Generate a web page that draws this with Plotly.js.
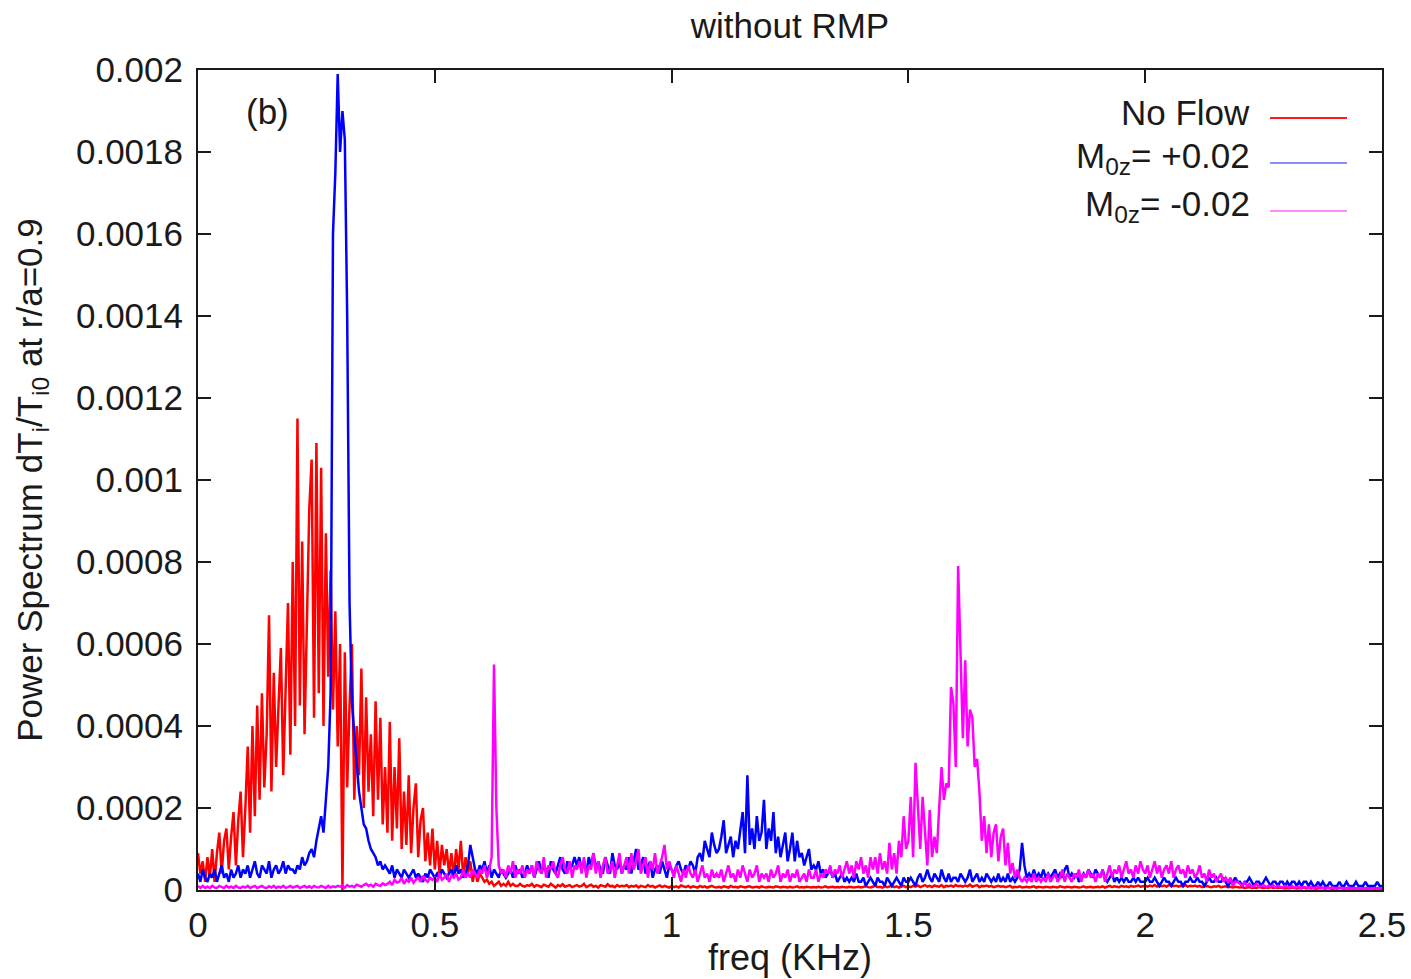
<!DOCTYPE html>
<html>
<head>
<meta charset="utf-8">
<script src="https://cdn.plot.ly/plotly-3.0.1.min.js"></script>
<style>
  html, body { margin: 0; padding: 0; background: #ffffff; }
  #chart { width: 1411px; height: 979px; }
</style>
</head>
<body>
<div id="chart"></div>
<script>
// Frequency sampling step (KHz); samples run from 0 to 2.5 KHz
const freqStep = 0.005;
// Values are in units of 1e-5 (power spectrum of dTi/Ti0 at r/a = 0.9)
const valueUnit = 1e-5;

// No Flow (red)
const noFlow = [
  9,4,7,2,8,3,10,2,9,14,4,12,15,5,13,19,6,17,24,8,
  20,35,14,40,18,45,22,48,25,38,67,24,53,30,45,59,28,50,70,33,
  80,40,115,45,85,38,62,93,105,42,109,48,103,40,87,52,78,44,68,35,
  60,0,58,25,45,60,22,40,28,54,20,47,24,38,18,46,22,42,16,30,
  14,41,12,30,15,37,10,24,11,28,9,20,26,8,17,20,7,14,6,15,
  5,12,4,11,6,10,4,9,3,10,5,12,3,8,4,7,2,5,2,4,
  3,2,2.5,1.5,2,1,1.5,2,1,1.5,1,2,1,1.5,1,1,1.5,1,0.8,1.2,
  1,1.5,0.8,1.2,1,0.7,1.3,1,0.8,1.5,1,0.6,1.2,0.9,1.4,0.8,1,1.2,0.7,1,
  1.2,0.8,1,1.5,0.7,1,1.3,0.8,1,0.6,1.2,1,0.8,1.4,0.9,1,0.7,1.2,0.8,1,
  0.9,1.2,0.7,1,0.8,1.1,0.6,1,0.9,0.7,1.2,0.8,1,0.6,0.9,1.1,0.7,1,0.8,0.6,
  1,0.7,0.9,0.6,1.1,0.8,0.7,1,0.6,0.9,0.8,0.6,1,0.7,0.9,0.6,0.8,1,0.7,0.6,
  0.8,0.6,0.9,0.7,0.6,1,0.7,0.8,0.6,0.9,0.7,0.6,0.8,0.9,0.6,0.7,0.8,0.6,0.9,0.7,
  0.6,0.8,0.7,0.6,0.9,0.7,0.6,0.8,0.7,0.6,0.8,0.6,0.7,0.9,0.6,0.7,0.6,0.8,0.7,0.6,
  0.7,0.6,0.8,0.6,0.7,0.9,0.6,0.7,0.8,0.6,0.7,0.6,0.8,0.7,0.6,0.8,0.7,0.6,0.7,0.8,
  0.6,0.7,0.9,0.7,0.6,0.8,1,0.7,0.8,0.6,0.9,0.7,0.8,1,0.7,0.9,0.6,0.8,1,0.7,
  0.9,0.7,1,0.8,1.1,0.7,0.9,1.2,0.8,1,0.7,1.1,0.9,0.8,1.2,0.7,1,0.9,1.1,0.8,
  1.2,0.9,1,0.8,1.1,0.9,1.3,0.8,1,1.2,0.7,1,0.9,1.1,0.8,1,0.7,0.9,1,0.8,
  0.9,0.7,0.8,1,0.6,0.8,0.7,0.9,0.6,0.7,0.8,0.6,0.7,0.9,0.6,0.8,0.7,0.6,0.8,0.7,
  0.6,0.8,0.7,0.6,0.9,0.7,0.6,0.8,0.7,0.6,0.8,0.7,0.6,0.7,0.9,0.6,0.7,0.8,0.6,0.7,
  0.8,0.7,0.9,0.6,0.8,1,0.7,0.9,0.8,0.7,1,0.8,0.9,0.7,1,0.8,0.9,1.1,0.8,0.9,
  1,0.8,1.1,0.9,1.2,0.8,1,0.9,1.1,0.8,1.2,1,0.9,1.1,0.8,1,0.9,1.2,0.8,1,
  0.9,1.1,0.8,1,0.7,0.9,1,0.8,0.7,0.9,0.8,1,0.7,0.8,0.9,0.7,0.8,0.6,0.8,0.7,
  0.6,0.7,0.5,0.6,0.7,0.5,0.6,0.5,0.7,0.6,0.5,0.6,0.5,0.7,0.5,0.6,0.5,0.6,0.5,0.4,
  0.5,0.4,0.6,0.5,0.4,0.5,0.4,0.6,0.4,0.5,0.4,0.5,0.3,0.4,0.5,0.4,0.3,0.5,0.4,0.3,
  0.4,0.3,0.5,0.4,0.3,0.4,0.3,0.4,0.3,0.4,0.3,0.3,0.4,0.3,0.3,0.4,0.3,0.3,0.4,0.3,0.3
];

// M0z = +0.02 (blue)
const flowPlus = [
  4,2,5,3,2,4,3,5,2,4,6,3,4,2,5,3,4,6,3,5,
  4,6,3,5,7,4,3,6,5,4,7,3,5,6,4,5,7,4,6,5,
  5,4,6,5,8,6,7,9,10,8,12,15,18,14,22,30,48,160,175,199,
  180,190,183,140,70,46,38,30,24,20,16,15,12,10,9,8,6,7,5,6,
  5,4,6,3,5,4,3,5,4,3,4,5,3,4,3,2,4,3,5,4,
  3,4,3,5,4,3,4,5,3,6,4,5,3,4,6,11,8,5,4,6,
  5,7,4,6,3,5,4,3,5,4,3,4,5,3,6,4,5,3,4,6,
  4,6,3,5,7,4,6,5,3,7,5,4,6,8,5,4,7,5,6,8,
  6,8,5,7,4,8,6,9,5,7,5,4,8,6,4,9,6,5,7,4,
  6,5,8,4,7,10,5,6,8,4,6,7,3,5,6,4,7,5,3,6,
  5,4,6,7,5,4,6,5,7,6,4,8,9,7,12,10,8,14,11,9,
  10,13,17,9,11,13,8,12,10,14,19,9,28,11,15,10,18,12,14,22,
  10,15,12,19,9,13,8,11,14,7,10,14,7,12,8,9,6,8,10,5,
  6,5,7,4,5,3,4,5,3,4,2,3,4,2,3,2,3,2,4,2,
  2,3,1,2,3,2,1,3,2,2,1,3,2,1,2,3,2,1,3,2,
  2,3,2,1,3,4,2,3,5,3,2,4,3,2,5,3,2,4,2,3,
  3,2,4,3,2,3,5,2,3,4,2,3,2,4,3,2,3,2,4,2,
  3,2,4,2,3,2,3,5,11.5,6,3,4,3,5,3,4,3,5,3,4,
  3,4,5,3,4,3,5,6,3,4,3,4,2,3,4,3,5,4,3,5,
  4,3,5,3,2,3,4,2,3,2,3,2,3,2,2,3,2,3,2,2,
  2,3,2,2,3,2,1,2,3,2,2,1,2,3,2,2,1,2,2,3,
  2,2,3,2,2,1,2,3,2,2,3,2,2,3,2,1,2,2,3,2,
  2,1,2,2,3,2,1,2,2,1,2,3,2,1,2,2,1,2,2,1,
  2,1,2,2,1,2,1,2,2,1,2,1,1,2,1,2,1,1,2,1,
  1,1,2,1,1,2,1,1,1,2,1,1,1,2,1,1,1,1,2,1,1
];

// M0z = -0.02 (magenta)
const flowMinus = [
  1,0.5,1,0.5,0.8,0.5,1,0.6,0.5,1,0.7,0.5,1,0.6,0.8,0.5,1,0.6,0.5,0.8,
  0.6,1,0.5,0.8,1,0.5,0.7,1,0.6,0.5,0.9,0.6,1,0.5,0.8,0.6,1,0.5,0.7,1,
  0.6,0.9,1,0.5,0.8,1,0.6,0.9,0.5,1,0.7,0.6,1,0.8,0.5,1,0.6,0.9,0.7,1,
  0.8,1,0.6,1.2,0.8,1,0.7,1.3,1,0.8,1.2,1.5,1,1.3,0.8,1.5,1.2,1,1.6,1.2,
  1.5,2,1.2,2.5,1.8,2,3,1.5,2.5,2,3,1.8,2.5,3,2,3.5,2.5,2,3,2.5,
  3,2,4,2.5,3,4,2,3.5,3,4,2.5,3,5,3,4,3,5,4,3,5,
  4,6,3,5,8,55,20,6,4,5,3,6,4,7,3,5,4,6,3,5,
  4,6,3,7,5,4,8,3,6,5,7,4,3,6,8,5,4,7,3,6,
  5,7,4,8,3,6,5,9,4,7,3,6,8,4,5,7,3,6,9,4,
  6,8,4,9,5,7,10,4,6,8,3,7,5,9,4,6,8,11,5,7,
  5,3,6,4,2,5,3,6,4,3,5,2,4,6,3,4,2,5,3,4,
  3,5,2,4,6,3,4,2,5,3,6,4,2,5,3,4,6,2,4,3,
  4,2,5,3,4,6,2,4,3,5,2,4,3,5,2,3,4,2,5,3,
  3,5,2,4,3,5,4,6,3,5,4,6,3,5,7,4,6,3,7,5,
  8,4,6,3,8,5,8,4,9,5,7,4,11.5,5,9,4,12,8,18,10,
  12,22.7,8,31,19.5,10,22.7,14,6,19.5,8,13,9,20,30,22,26,25,49.5,45.6,
  30,79,59,37,56,35,44,42,30,32,24,12,18,9,16,8,14,16,7,13,
  15,6,11.5,4,6.6,3,5,3,2,3,2,3,2,4,2,3,2,3,2,4,
  2,3,4,2,3,5,2,4,3,2,4,3,5,2,4,3,5,3,4,2,
  4,3,5,2,4,6,3,5,4,6,3,5,7,4,5,3,6,4,7,5,
  4,6,3,5,7,4,6,3,5,6,4,7,3,5,6,4,5,3,6,4,
  5,3,4,6,3,4,2,5,3,4,2,3,4,2,3,2,3,1,2,2,
  1.5,1,2,1,1.5,0.8,1,1.5,0.8,1,1.2,0.7,1,0.8,1.2,0.6,1,0.8,0.6,1,
  0.8,0.6,1,0.5,0.8,0.6,0.5,0.8,0.6,0.5,0.7,0.5,0.6,0.8,0.5,0.6,0.4,0.6,0.5,0.6,
  0.5,0.4,0.6,0.5,0.4,0.5,0.6,0.4,0.5,0.4,0.5,0.4,0.3,0.5,0.4,0.3,0.4,0.5,0.3,0.4,0.3
];

const seriesNames = ['No Flow', 'M<sub>0z</sub>= +0.02', 'M<sub>0z</sub>= -0.02'];
const seriesColors = ['#ff0000', '#0000ff', '#ff00ff'];
const legendColors = ['#ff1a1a', '#8c8cff', '#ff8cff'];
const xTicks = [0, 0.5, 1, 1.5, 2, 2.5];
const xTickText = ['0', '0.5', '1', '1.5', '2', '2.5'];
const yTicks = [0, 0.0002, 0.0004, 0.0006, 0.0008, 0.001, 0.0012, 0.0014, 0.0016, 0.0018, 0.002];
const yTickText = ['0', '0.0002', '0.0004', '0.0006', '0.0008', '0.001', '0.0012', '0.0014', '0.0016', '0.0018', '0.002'];

function makeTrace(vals, name, color) {
  const x = vals.map((_, i) => +(i * freqStep).toFixed(3));
  const y = vals.map(v => v * valueUnit);
  return { x, y, name, type: 'scatter', mode: 'lines',
           line: { color, width: 2.5 }, showlegend: false, hoverinfo: 'x+y' };
}

const traces = [
  makeTrace(noFlow, seriesNames[0], seriesColors[0]),
  makeTrace(flowPlus, seriesNames[1], seriesColors[1]),
  makeTrace(flowMinus, seriesNames[2], seriesColors[2])
];

const FONT = 'Liberation Sans, Arial, sans-serif';
const txt = '#1a1a1a';

// legend drawn gnuplot-style: text right-aligned, line sample to its right
const legendRowsY = [0.9476, 0.8927, 0.834];
const annotations = seriesNames.map((n, i) => ({
  xref: 'paper', yref: 'paper', x: 0.890, y: legendRowsY[i],
  xanchor: 'right', yanchor: 'middle', text: n, showarrow: false,
  font: { family: FONT, size: 35, color: txt }
}));
annotations.push({
  xref: 'x', yref: 'y', x: 0.146, y: 0.0019, xanchor: 'center', yanchor: 'middle',
  text: '(b)', showarrow: false, font: { family: FONT, size: 35, color: txt }
});
const shapes = legendColors.map((c, i) => ({
  type: 'line', xref: 'paper', yref: 'paper',
  x0: 0.9054, x1: 0.9704, y0: legendRowsY[i] - 0.006, y1: legendRowsY[i] - 0.006,
  line: { color: c, width: 2 }
}));

const axisCommon = {
  showline: true, mirror: 'ticks', linecolor: '#1a1a1a', linewidth: 2,
  ticks: 'inside', ticklen: 13, tickwidth: 2, tickcolor: '#1a1a1a',
  showgrid: false, zeroline: false,
  tickfont: { family: FONT, size: 35, color: txt }
};

const layout = {
  width: 1411, height: 979,
  margin: { l: 198, r: 29, t: 70, b: 89 },
  paper_bgcolor: '#ffffff', plot_bgcolor: '#ffffff',
  title: { text: 'without RMP', x: 0.5, xref: 'paper', xanchor: 'center',
           y: 0.974, yref: 'container', yanchor: 'middle',
           font: { family: FONT, size: 35, color: txt } },
  xaxis: Object.assign({}, axisCommon, {
    range: [0, 2.5], tickvals: xTicks, ticktext: xTickText, ticklabelstandoff: 3,
    title: { text: 'freq (KHz)', font: { family: FONT, size: 36, color: txt }, standoff: 2 }
  }),
  yaxis: Object.assign({}, axisCommon, {
    range: [0, 0.002], tickvals: yTicks, ticktext: yTickText, ticklabelstandoff: 6,
    title: { text: 'Power Spectrum dT<sub>i</sub>/T<sub>i0</sub> at r/a=0.9',
             font: { family: FONT, size: 35, color: txt }, standoff: 23 }
  }),
  annotations, shapes, showlegend: false
};

Plotly.newPlot('chart', traces, layout, { displayModeBar: false, staticPlot: true });
</script>
</body>
</html>
